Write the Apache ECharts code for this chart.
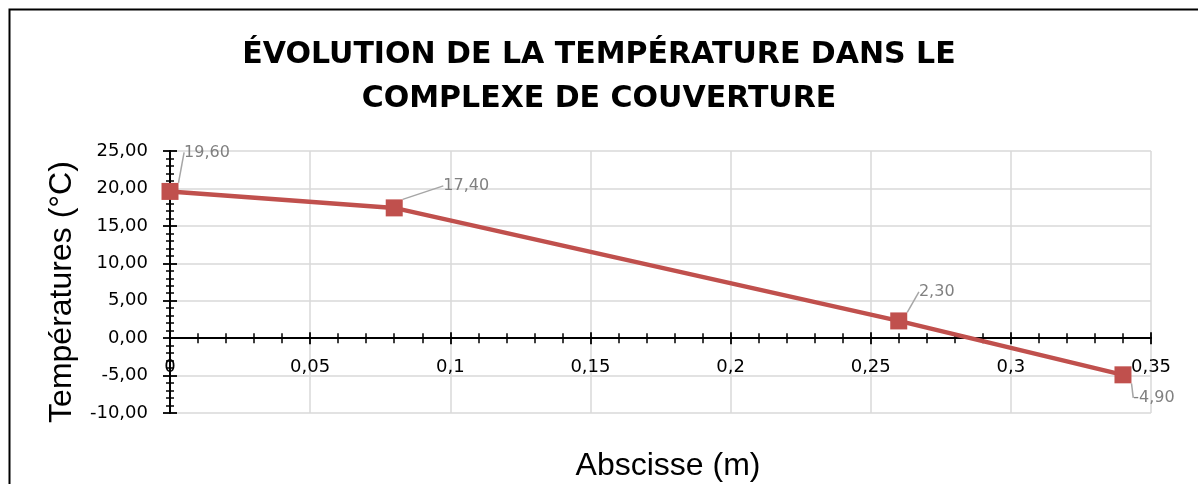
<!DOCTYPE html>
<html><head><meta charset="utf-8">
<script src="https://cdn.jsdelivr.net/npm/echarts@6/dist/echarts.min.js"></script>
<style>html,body{margin:0;padding:0;background:#fff}#c{width:1198px;height:484px}</style>
</head><body><div id="c"></div>
<script>
const titleLines = ['ÉVOLUTION DE LA TEMPÉRATURE DANS LE', 'COMPLEXE DE COUVERTURE'];
const xName = 'Abscisse (m)';
const yName = 'Températures (°C)';
const abscisses = [0, 0.08, 0.26, 0.34];
const temperatures = [19.6, 17.4, 2.3, -4.9];
const xTicks = {min: 0, max: 0.35, interval: 0.05};
const yTicks = {min: -10, max: 25, interval: 5};

const labelShift = [[37, -39], [72, -22], [38, -29], [31, 23]];
const fmtX = v => parseFloat(v.toFixed(4)).toString().replace('.', ',');
const fmtY = v => v.toFixed(2).replace('.', ',');
const tickFont = {fontFamily: 'DejaVu Sans', fontSize: 18, color: '#000'};
const axisLine = {onZero: true, lineStyle: {color: '#000', width: 1.8}};
const tickStyle = {color: '#000', width: 1.8};
const minorStyle = {color: '#000', width: 1.5};

const W = 1198, H = 484;
const G = {left: 170, right: 47, top: 151, bottom: 71};
const plotH = H - G.top - G.bottom;
const zeroPx = G.top + plotH * (yTicks.max - 0) / (yTicks.max - yTicks.min);

const chart = echarts.init(document.getElementById('c'), null, {renderer: 'canvas'});
chart.setOption({
  animation: false,
  backgroundColor: '#fff',
  title: {
    text: titleLines.join('\n'), left: 'center', top: 28,
    textStyle: {fontFamily: 'DejaVu Sans', fontWeight: 'bold', fontSize: 30, lineHeight: 44, color: '#000'}
  },
  graphic: [
    {type: 'rect', left: 7, top: 7, shape: {width: 1400, height: 800}, style: {fill: null, stroke: '#000', lineWidth: 2}, silent: true},
    {type: 'text', x: 668, y: 450, style: {text: xName, fontFamily: 'Liberation Sans', fontSize: 32, fill: '#000', textAlign: 'center'}},
    {type: 'text', x: 62, y: 292, rotation: Math.PI / 2,
     style: {text: yName, fontFamily: 'Liberation Sans', fontSize: 32, fill: '#000', textAlign: 'center', textVerticalAlign: 'middle'}}
  ],
  grid: [
    {left: G.left, right: G.right, top: G.top, bottom: G.bottom},
    {left: G.left, right: G.right, top: G.top, height: zeroPx - G.top}
  ],
  xAxis: [
    {type: 'value', gridIndex: 0, position: 'bottom', min: xTicks.min, max: xTicks.max, interval: xTicks.interval,
     axisLine: axisLine, axisTick: {show: true, length: 6, lineStyle: tickStyle},
     minorTick: {show: true, splitNumber: 5, length: 5, lineStyle: minorStyle},
     axisLabel: {show: false},
     splitLine: {show: true, lineStyle: {color: '#d9d9d9', width: 1.5}}},
    {type: 'value', gridIndex: 0, position: 'top', min: xTicks.min, max: xTicks.max, interval: xTicks.interval,
     axisLine: axisLine, axisTick: {show: true, length: 6, lineStyle: tickStyle},
     minorTick: {show: true, splitNumber: 5, length: 5, lineStyle: minorStyle},
     axisLabel: {show: false}, splitLine: {show: false}},
    {type: 'value', gridIndex: 1, position: 'bottom', min: xTicks.min, max: xTicks.max, interval: xTicks.interval,
     axisLine: {show: false}, axisTick: {show: false}, splitLine: {show: false},
     axisLabel: Object.assign({margin: 20, formatter: fmtX, showMinLabel: true, showMaxLabel: true}, tickFont)}
  ],
  yAxis: [
    {type: 'value', gridIndex: 0, position: 'left', min: yTicks.min, max: yTicks.max, interval: yTicks.interval,
     axisLine: axisLine, axisTick: {show: true, length: 7, lineStyle: tickStyle},
     minorTick: {show: true, splitNumber: 5, length: 4, lineStyle: minorStyle},
     axisLabel: Object.assign({margin: 22, formatter: fmtY}, tickFont),
     splitLine: {show: true, lineStyle: {color: '#d9d9d9', width: 1.5}}},
    {type: 'value', gridIndex: 0, position: 'right', min: yTicks.min, max: yTicks.max, interval: yTicks.interval,
     axisLine: axisLine, axisTick: {show: true, length: 7, lineStyle: tickStyle},
     minorTick: {show: true, splitNumber: 5, length: 4, lineStyle: minorStyle},
     axisLabel: {show: false}, splitLine: {show: false}},
    {type: 'value', gridIndex: 1, min: 0, max: yTicks.max, show: false}
  ],
  series: [{
    type: 'line', xAxisIndex: 0, yAxisIndex: 0,
    data: abscisses.map((x, i) => [x, temperatures[i]]),
    symbol: 'rect', symbolSize: 17,
    lineStyle: {color: '#c0504d', width: 4.5},
    itemStyle: {color: '#c0504d'},
    label: {show: true, position: 'inside', formatter: p => fmtY(p.value[1]),
            fontFamily: 'DejaVu Sans', fontSize: 16, color: '#808080', padding: [1, 4]},
    labelLine: {show: true, lineStyle: {color: '#a6a6a6', width: 1.5}},
    labelLayout: p => ({dx: labelShift[p.dataIndex][0], dy: labelShift[p.dataIndex][1]}),
    z: 5
  }]
});
</script></body></html>
